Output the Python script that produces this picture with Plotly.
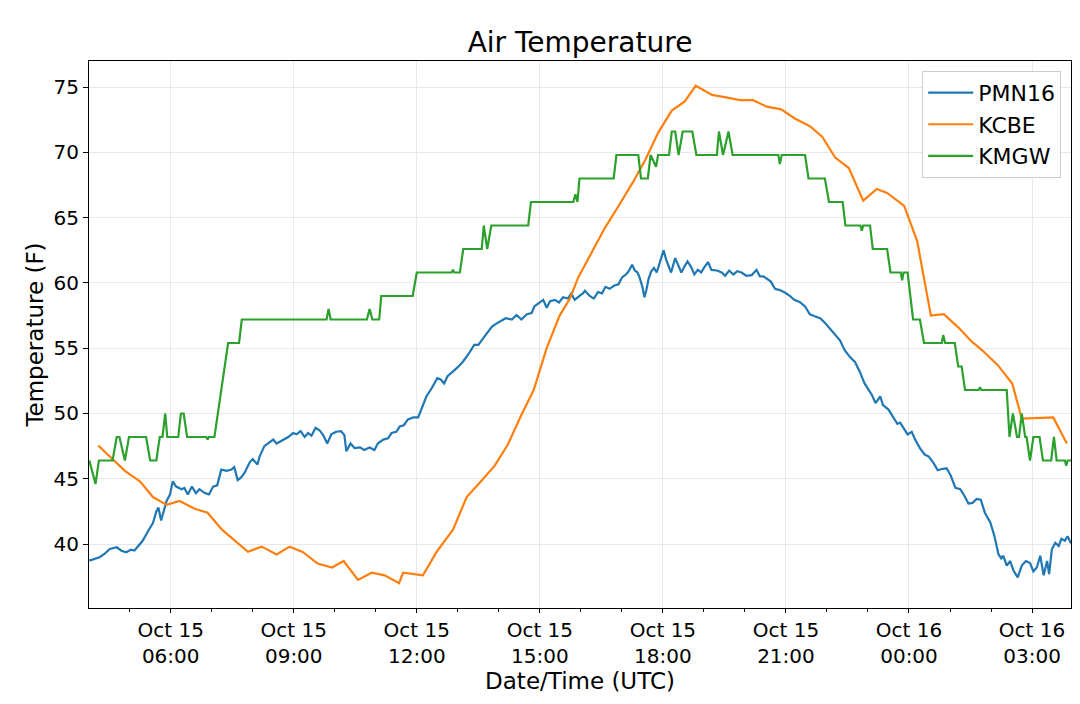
import pandas as pd
import plotly.graph_objects as go

# minutes after 2019-10-15 04:00 UTC, temperatures in F
pmn16_min = [1, 9, 16, 23, 31, 41, 48, 55, 62, 67, 75, 79, 87, 94, 99, 102, 106, 110, 114, 119,
             123, 128, 136, 140, 145, 151, 157, 162, 170, 176, 182, 188, 194, 202, 209, 213, 218, 223,
             228, 236, 240, 247, 250, 257, 265, 270, 275, 280, 284, 292, 299, 304, 310, 316, 321, 326,
             332, 338, 343, 349, 355, 362, 369, 374, 377, 383, 389, 397, 403, 411, 418, 423, 431, 438,
             443, 450, 455, 461, 467, 475,
             482, 487, 494, 502, 510, 515, 520, 525, 531, 536, 540, 548, 555, 564, 570, 577, 584, 590,
             597, 603, 610, 619, 626, 633, 641, 648, 652, 657, 665, 670, 675, 682, 688, 694, 701, 706,
             711, 719, 723,
             726, 733, 739, 745, 751, 756, 762, 769, 775, 780, 787, 790, 795, 799, 803, 806, 810, 813,
             816, 819, 823, 827, 831, 836, 841, 845, 852, 858, 862, 867, 871, 876, 881, 886, 891, 896,
             900, 906, 911, 919, 926, 931, 937, 943, 949, 955, 962, 970, 977, 982,
             987, 993, 998, 1004, 1011, 1019, 1026, 1032, 1040, 1048, 1055, 1062, 1070, 1077, 1084, 1092,
             1099, 1106, 1114, 1121, 1128, 1135, 1140, 1146, 1151, 1158, 1162, 1170, 1177, 1183, 1187,
             1192, 1198, 1204,
             1209, 1216, 1223, 1229, 1236, 1242, 1248, 1255, 1261, 1268, 1275, 1281, 1287, 1293, 1299,
             1305, 1311, 1319, 1325, 1331, 1335, 1338, 1343, 1348, 1353, 1359, 1365, 1371, 1377, 1382,
             1387, 1392, 1397, 1402, 1405, 1409, 1414, 1419, 1423, 1428, 1432, 1437]
pmn16_temp = [38.73, 38.86, 38.99, 39.24, 39.62, 39.75, 39.49, 39.37, 39.57, 39.5, 40.0, 40.25, 41.0, 41.6,
              42.5, 42.8, 41.8, 42.5, 43.3, 43.8, 44.8, 44.4, 44.2, 44.3, 43.8, 44.4, 43.9, 44.2, 43.9, 43.8,
              44.4, 44.5, 45.7, 45.6, 45.7, 45.9, 44.9, 45.1,
              45.45, 46.3, 46.5, 46.1, 46.7, 47.5, 47.85, 48.0, 47.7, 47.85, 48.0, 48.2, 48.5, 48.4, 48.65,
              48.2, 48.5, 48.3, 48.9, 48.7, 48.35, 47.7, 48.4, 48.6, 48.65, 48.35, 47.1, 47.7, 47.35, 47.4,
              47.2, 47.4, 47.2, 47.7, 48.0, 48.1, 48.5, 48.6, 49.0, 49.1, 49.55, 49.7,
              49.7, 50.4, 51.3, 51.95, 52.7, 52.6, 52.3, 52.85, 53.1, 53.35, 53.55, 54.0, 54.5, 55.25, 55.25,
              55.75, 56.2, 56.65, 56.9, 57.1, 57.3, 57.2, 57.55, 57.2, 57.6, 57.7, 58.2, 58.4, 58.7, 58.1,
              58.6, 58.7, 58.5, 58.9, 58.8, 59.2, 58.7, 59.05, 59.2,
              59.4, 59.0, 58.8, 59.3, 59.2, 59.7, 59.55, 59.8, 59.9, 60.4, 60.7, 60.9, 61.4, 60.95, 60.8,
              60.4, 59.7, 58.9, 59.5, 60.3, 60.9, 61.15, 60.8, 61.6, 62.5, 61.75, 60.8, 61.9, 61.45, 60.8,
              61.2, 61.65, 61.25, 60.65, 61.0, 60.8, 61.15, 61.6, 61.0, 60.95, 60.8, 60.55, 60.95, 60.65,
              60.9, 60.8, 60.55, 60.6, 61.0, 60.5,
              60.5, 60.3, 60.1, 59.55, 59.45, 59.25, 59.0, 58.7, 58.55, 58.2, 57.6, 57.45, 57.3, 56.95, 56.5,
              56.0, 55.6, 54.85, 54.3, 53.95, 53.2, 52.3, 51.9, 51.4, 50.8, 51.3, 50.65, 50.3, 49.7, 49.2,
              49.3, 48.9, 48.4, 48.6,
              48.0, 47.35, 46.85, 46.7, 46.2, 45.65, 45.75, 45.8, 45.25, 44.3, 44.2, 43.7, 43.1, 43.15, 43.45,
              43.4, 42.4, 41.65, 40.6, 39.2, 38.9, 39.1, 38.35, 38.7, 37.95, 37.45, 38.35, 38.7, 38.55, 37.9,
              38.2, 39.1, 37.6, 38.7, 37.7, 39.6, 40.1, 39.85, 40.4, 40.25, 40.6, 40.05]

kcbe_min = [14, 35, 53, 75, 94, 114, 133, 155, 174, 195, 233, 253, 275, 294, 313, 335, 356, 373, 394, 414,
            433, 454, 460, 489, 509, 533, 553, 572, 594, 613, 634, 651, 670, 689, 704, 716, 733, 755, 774,
            796, 814, 833, 853, 872, 888, 912, 934, 953, 972, 992, 1013, 1033, 1055, 1073, 1092, 1112, 1133,
            1153, 1168, 1193, 1212, 1232, 1251, 1272, 1292, 1308, 1330, 1351, 1365, 1411, 1431]
kcbe_temp = [47.55, 46.5, 45.6, 44.8, 43.6, 43.0, 43.3, 42.7, 42.4, 41.1, 39.4, 39.8, 39.2, 39.8, 39.4, 38.5,
             38.2, 38.7, 37.25, 37.8, 37.6, 37.0, 37.8, 37.6, 39.4, 41.1, 43.6, 44.7, 46.0, 47.6, 50.0, 51.8,
             55.0, 57.5, 58.8, 60.4, 62.1, 64.2, 65.8, 67.7, 69.4, 71.5, 73.2, 73.9, 75.1, 74.4, 74.2, 74.0,
             74.0, 73.5, 73.3, 72.6, 72.0, 71.2, 69.6, 68.8, 66.3, 67.2, 66.9, 65.9, 63.2, 57.5, 57.6, 56.6,
             55.5, 54.8, 53.7, 52.3, 49.6, 49.7, 47.7]

kmgw_min = [1, 10, 15, 35, 41, 45, 53, 59, 84, 90, 99, 104, 108, 112, 115, 131, 135, 139, 144, 172, 174, 176,
            184, 204, 220, 224, 348, 351, 354, 407, 411, 415, 425, 428, 474, 480, 531, 533, 535, 543, 548,
            575, 578, 583, 589, 643, 647, 709, 712, 715, 718, 768, 772, 804, 808, 818, 822, 830, 833, 849,
            853, 858, 863, 869, 883, 889, 919, 922, 928, 936, 942, 1009, 1011, 1014, 1048, 1053, 1077,
            1083, 1103, 1107, 1129, 1131, 1133, 1143, 1147, 1168, 1173, 1188, 1190, 1192, 1198, 1206,
            1216, 1222, 1248, 1250, 1253, 1267, 1272, 1277, 1282, 1302, 1304, 1306, 1343, 1347, 1352,
            1358, 1361, 1365, 1370, 1372, 1377, 1382, 1391, 1396, 1408, 1412, 1416, 1428, 1430, 1432, 1437]
kmgw_temp = [46.4, 44.6, 46.4, 46.4, 48.2, 48.2, 46.4, 48.2, 48.2, 46.4, 46.4, 48.2, 48.2, 50.0, 48.2, 48.2,
             50.0, 50.0, 48.2, 48.2, 48.0, 48.2, 48.2, 55.4, 55.4, 57.2, 57.2, 58.0, 57.2, 57.2, 58.0, 57.2,
             57.2, 59.0, 59.0, 60.8, 60.8, 61.0, 60.8, 60.8, 62.6, 62.6, 64.4, 62.6, 64.4, 64.4, 66.2, 66.2,
             66.8, 66.2, 68.0, 68.0, 69.8, 69.8, 68.0, 68.0, 69.8, 68.9, 69.8, 69.8, 71.6, 71.6, 69.8, 71.6,
             71.6, 69.8, 69.8, 71.6, 69.8, 71.6, 69.8, 69.8, 69.1, 69.8, 69.8, 68.0, 68.0, 66.2, 66.2, 64.4,
             64.4, 64.0, 64.4, 64.4, 62.6, 62.6, 60.8, 60.8, 60.2, 60.8, 60.8, 57.2, 57.2, 55.4, 55.4, 56.0,
             55.4, 55.4, 53.6, 53.6, 51.8, 51.8, 52.0, 51.8, 51.8, 48.2, 50.0, 48.2, 48.2, 50.0, 48.2, 48.2,
             46.4, 48.2, 48.2, 46.4, 46.4, 48.2, 46.4, 46.4, 46.0, 46.4, 46.4]

base = pd.Timestamp("2019-10-15 04:00")


def to_time(mins):
    return base + pd.to_timedelta(mins, unit="min")


tick_times = pd.date_range("2019-10-15 06:00", periods=8, freq="3h")
tick_text = [t.strftime("%b %d<br>%H:%M") for t in tick_times]
minor_times = pd.date_range("2019-10-15 04:00", "2019-10-16 04:00", freq="1h")

fig = go.Figure()
fig.add_trace(go.Scatter(x=to_time(pmn16_min), y=pmn16_temp, mode="lines", name="PMN16",
                         line=dict(color="#1f77b4", width=2.2)))
fig.add_trace(go.Scatter(x=to_time(kcbe_min), y=kcbe_temp, mode="lines", name="KCBE",
                         line=dict(color="#ff7f0e", width=2.2)))
fig.add_trace(go.Scatter(x=to_time(kmgw_min), y=kmgw_temp, mode="lines", name="KMGW",
                         line=dict(color="#2ca02c", width=2.2)))

axis_font = dict(family="DejaVu Sans", size=20, color="black")
label_font = dict(family="DejaVu Sans", size=23, color="black")
fig.update_layout(
    width=1080, height=704,
    paper_bgcolor="white", plot_bgcolor="white",
    margin=dict(l=89, r=9, t=61, b=96),
    font=dict(family="DejaVu Sans", color="black"),
    title=dict(text="Air Temperature", xref="paper", x=0.5, xanchor="center",
               yref="container", y=0.94, yanchor="middle",
               font=dict(family="DejaVu Sans", size=28, color="black")),
    showlegend=True,
    legend=dict(x=0.99, xanchor="right", y=0.982, yanchor="top", bgcolor="white",
                bordercolor="#cccccc", borderwidth=1, itemwidth=45,
                font=dict(family="DejaVu Sans", size=22, color="black")),
    xaxis=dict(
        range=[to_time(0.5), to_time(1437)], automargin=False,
        tickmode="array", tickvals=tick_times, ticktext=tick_text, tickfont=axis_font,
        ticks="outside", ticklen=4, tickcolor="black",
        showgrid=True, gridcolor="#e8e8e8", gridwidth=1,
        showline=True, linecolor="black", linewidth=1.2, mirror=True, zeroline=False,
        minor=dict(tickvals=minor_times, ticks="outside", ticklen=3, tickcolor="black", showgrid=False),
        title=dict(text="Date/Time (UTC)", font=label_font, standoff=0),
    ),
    yaxis=dict(
        range=[35.1, 77.0], tickvals=[40, 45, 50, 55, 60, 65, 70, 75], tickfont=axis_font,
        automargin=False,
        ticks="outside", ticklen=5, tickcolor="black",
        showgrid=True, gridcolor="#e8e8e8", gridwidth=1,
        showline=True, linecolor="black", linewidth=1.2, mirror=True, zeroline=False,
        title=dict(text="Temperature (F)", font=label_font, standoff=3),
    ),
)

# the page body has a default 8px margin; drop it so the figure sits at the window corner
fig.write_html("out.html", config={"displayModeBar": False},
               post_script="document.body.style.margin='0';")
